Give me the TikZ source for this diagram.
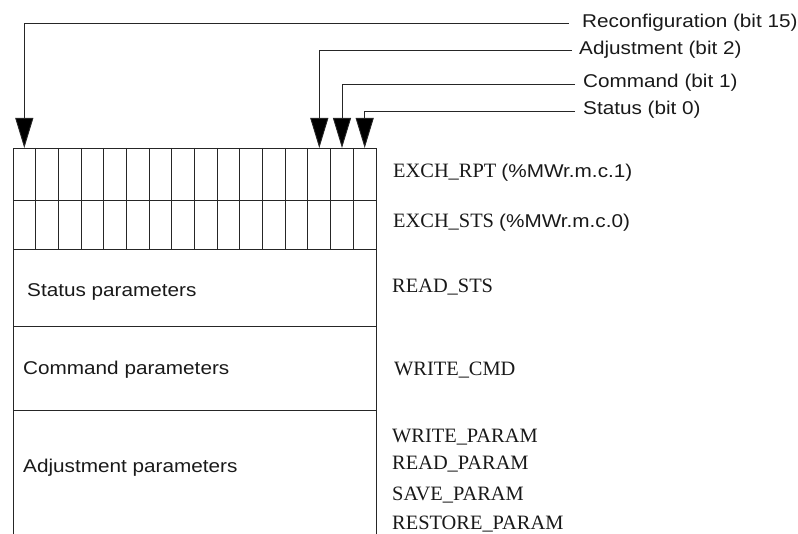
\documentclass[tikz,border=0pt]{standalone}
\usepackage{fontspec}
\setmainfont{Liberation Serif}
\newfontfamily\labsans[FakeStretch=1.12]{Liberation Sans}
\usetikzlibrary{arrows.meta}
\begin{document}
\begin{tikzpicture}[x=1pt,y=-1pt,
  frame/.style={draw=black!85,line width=0.9pt},
  conn/.style={draw=black!85,line width=0.9pt,-{Triangle[width=18pt,length=30pt,fill=black]}},
  sanslbl/.style={font=\labsans\fontsize{18.5}{22}\selectfont,anchor=base west,inner sep=0pt,text=black!90},
  seriflbl/.style={font=\fontsize{20.4}{24}\selectfont,anchor=base west,inner sep=0pt,text=black!90}]
\useasboundingbox (0,0) rectangle (798,534);
% table frame
\draw[frame] (13,534) -- (13,148) -- (376,148) -- (376,534);
\foreach \yy in {200,249,326,410} \draw[frame] (13,\yy) -- (376,\yy);
\foreach \i in {1,...,15} \draw[frame] ({13+\i*22.6875},148) -- ({13+\i*22.6875},249);
% bit targets
\coordinate (b15) at (24.3,148);
\coordinate (b2) at (319.3,148);
\coordinate (b1) at (342,148);
\coordinate (b0) at (364.7,148);
% line ends
\coordinate (rc) at (568.5,23.3);
\coordinate (ad) at (572,50.7);
\coordinate (cm) at (575,84.3);
\coordinate (st) at (575,111);
% top labels
\node[sanslbl] (lrc) at (582,28) {Reconfiguration (bit 15)};
\node[sanslbl] (lad) at (579,55) {Adjustment (bit 2)};
\node[sanslbl] (lcm) at (583,88) {Command (bit 1)};
\node[sanslbl] (lst) at (583,115) {Status (bit 0)};
% connectors
\draw[conn] (rc) -| (b15);
\draw[conn] (ad) -| (b2);
\draw[conn] (cm) -| (b1);
\draw[conn] (st) -| (b0);
% left labels
\node[sanslbl] (sp) at (27,297) {Status parameters};
\node[sanslbl] (cp) at (23,375) {Command parameters};
\node[sanslbl] (ap) at (23,472) {Adjustment parameters};
% right labels
\node[seriflbl] (rpt) at (393,178) {EXCH\_RPT {\labsans\fontsize{18.5}{22}\selectfont(\%MWr.m.c.1)}};
\node[seriflbl] (sts) at (393,227.5) {EXCH\_STS {\labsans\fontsize{18.5}{22}\selectfont(\%MWr.m.c.0)}};
\node[seriflbl] (rs) at (392,292.5) {READ\_STS};
\node[seriflbl] (wc) at (394,376) {WRITE\_CMD};
\node[seriflbl] (wp) at (392,442.5) {WRITE\_PARAM};
\node[seriflbl] (rp) at (392,469) {READ\_PARAM};
\node[seriflbl] (svp) at (392,500) {SAVE\_PARAM};
\node[seriflbl] (rsp) at (392,529) {RESTORE\_PARAM};
\end{tikzpicture}
\end{document}
